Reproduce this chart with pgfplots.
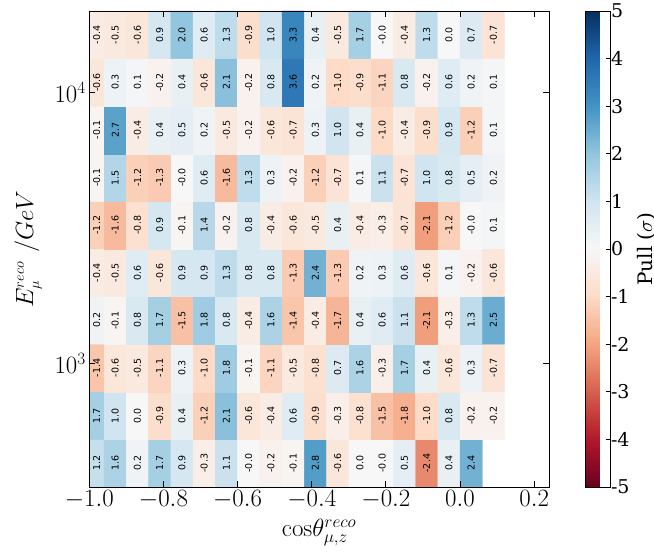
\documentclass[border=0pt]{standalone}
\usepackage[no-math]{fontspec}
\setmainfont{DejaVu Serif}
\newfontfamily\cellfont{DejaVu Sans}
\usepackage{pgfplots}
\pgfplotsset{compat=1.18}
\usepackage{pgfplotstable}

\pgfplotstableread{
x xt y v
-0.99 -0.98 2.63192 1.2
-0.93 -0.93 2.63192 1.6
-0.87 -0.87 2.63192 0.2
-0.81 -0.81 2.63192 1.7
-0.75 -0.75 2.63192 0.9
-0.69 -0.69 2.63192 -0.3
-0.63 -0.63 2.63192 1.1
-0.57 -0.57 2.63192 -0.0
-0.51 -0.51 2.63192 -0.2
-0.45 -0.45 2.63192 -0.1
-0.39 -0.39 2.63192 2.8
-0.33 -0.33 2.63192 -0.6
-0.27 -0.27 2.63192 0.0
-0.21 -0.21 2.63192 -0.0
-0.15 -0.15 2.63192 0.5
-0.09 -0.09 2.63192 -2.4
-0.03 -0.03 2.63192 0.4
0.03 0.03 2.63192 2.4
0.09 nan 2.63192 nan
-0.99 -0.98 2.80761 1.7
-0.93 -0.93 2.80761 1.0
-0.87 -0.87 2.80761 0.0
-0.81 -0.81 2.80761 -0.9
-0.75 -0.75 2.80761 0.4
-0.69 -0.69 2.80761 -1.2
-0.63 -0.63 2.80761 2.1
-0.57 -0.57 2.80761 -0.6
-0.51 -0.51 2.80761 -0.4
-0.45 -0.45 2.80761 0.6
-0.39 -0.39 2.80761 -0.9
-0.33 -0.33 2.80761 -0.3
-0.27 -0.27 2.80761 -0.8
-0.21 -0.21 2.80761 -1.5
-0.15 -0.15 2.80761 -1.8
-0.09 -0.09 2.80761 -1.0
-0.03 -0.03 2.80761 0.8
0.03 0.03 2.80761 -0.2
0.09 0.09 2.80761 -0.2
-0.99 -0.98 2.98331 -1.4
-0.93 -0.93 2.98331 -0.6
-0.87 -0.87 2.98331 -0.5
-0.81 -0.81 2.98331 -1.1
-0.75 -0.75 2.98331 0.3
-0.69 -0.69 2.98331 -1.0
-0.63 -0.63 2.98331 1.8
-0.57 -0.57 2.98331 -0.1
-0.51 -0.51 2.98331 -1.1
-0.45 -0.45 2.98331 -0.5
-0.39 -0.39 2.98331 -0.8
-0.33 -0.33 2.98331 0.7
-0.27 -0.27 2.98331 1.6
-0.21 -0.21 2.98331 -0.3
-0.15 -0.15 2.98331 1.7
-0.09 -0.09 2.98331 0.4
-0.03 -0.03 2.98331 -0.6
0.03 0.03 2.98331 0.3
0.09 0.09 2.98331 -0.7
-0.99 -0.98 3.15900 0.2
-0.93 -0.93 3.15900 -0.1
-0.87 -0.87 3.15900 0.8
-0.81 -0.81 3.15900 1.7
-0.75 -0.75 3.15900 -1.5
-0.69 -0.69 3.15900 1.8
-0.63 -0.63 3.15900 0.8
-0.57 -0.57 3.15900 -0.4
-0.51 -0.51 3.15900 1.6
-0.45 -0.45 3.15900 -1.4
-0.39 -0.39 3.15900 -0.4
-0.33 -0.33 3.15900 -1.7
-0.27 -0.27 3.15900 0.4
-0.21 -0.21 3.15900 0.6
-0.15 -0.15 3.15900 1.1
-0.09 -0.09 3.15900 -2.1
-0.03 -0.03 3.15900 -0.3
0.03 0.03 3.15900 1.3
0.09 0.09 3.15900 2.5
-0.99 -0.98 3.33470 -0.4
-0.93 -0.93 3.33470 -0.5
-0.87 -0.87 3.33470 0.6
-0.81 -0.81 3.33470 -0.6
-0.75 -0.75 3.33470 0.9
-0.69 -0.69 3.33470 0.9
-0.63 -0.63 3.33470 1.3
-0.57 -0.57 3.33470 0.8
-0.51 -0.51 3.33470 0.8
-0.45 -0.45 3.33470 -1.3
-0.39 -0.39 3.33470 2.4
-0.33 -0.33 3.33470 -1.3
-0.27 -0.27 3.33470 0.2
-0.21 -0.21 3.33470 0.3
-0.15 -0.15 3.33470 0.6
-0.09 -0.09 3.33470 -0.6
-0.03 -0.03 3.33470 0.1
0.03 0.03 3.33470 -0.2
0.09 0.09 3.33470 -0.6
-0.99 -0.98 3.51040 -1.2
-0.93 -0.93 3.51040 -1.6
-0.87 -0.87 3.51040 -0.8
-0.81 -0.81 3.51040 0.9
-0.75 -0.75 3.51040 -0.1
-0.69 -0.69 3.51040 1.4
-0.63 -0.63 3.51040 -0.2
-0.57 -0.57 3.51040 0.8
-0.51 -0.51 3.51040 -0.4
-0.45 -0.45 3.51040 -0.6
-0.39 -0.39 3.51040 -0.5
-0.33 -0.33 3.51040 0.4
-0.27 -0.27 3.51040 -0.4
-0.21 -0.21 3.51040 -0.3
-0.15 -0.15 3.51040 -0.7
-0.09 -0.09 3.51040 -2.1
-0.03 -0.03 3.51040 -1.2
0.03 0.03 3.51040 -0.0
0.09 0.09 3.51040 0.1
-0.99 -0.98 3.68609 -0.1
-0.93 -0.93 3.68609 1.5
-0.87 -0.87 3.68609 -1.2
-0.81 -0.81 3.68609 -1.3
-0.75 -0.75 3.68609 -0.0
-0.69 -0.69 3.68609 0.6
-0.63 -0.63 3.68609 -1.6
-0.57 -0.57 3.68609 1.3
-0.51 -0.51 3.68609 0.3
-0.45 -0.45 3.68609 -0.2
-0.39 -0.39 3.68609 -1.2
-0.33 -0.33 3.68609 -0.7
-0.27 -0.27 3.68609 0.1
-0.21 -0.21 3.68609 1.1
-0.15 -0.15 3.68609 -0.7
-0.09 -0.09 3.68609 1.0
-0.03 -0.03 3.68609 0.8
0.03 0.03 3.68609 0.5
0.09 0.09 3.68609 0.2
-0.99 -0.98 3.86179 -0.1
-0.93 -0.93 3.86179 2.7
-0.87 -0.87 3.86179 -0.4
-0.81 -0.81 3.86179 0.4
-0.75 -0.75 3.86179 0.5
-0.69 -0.69 3.86179 0.2
-0.63 -0.63 3.86179 -0.5
-0.57 -0.57 3.86179 -0.2
-0.51 -0.51 3.86179 -0.6
-0.45 -0.45 3.86179 -0.7
-0.39 -0.39 3.86179 0.3
-0.33 -0.33 3.86179 1.0
-0.27 -0.27 3.86179 0.4
-0.21 -0.21 3.86179 -1.0
-0.15 -0.15 3.86179 -0.4
-0.09 -0.09 3.86179 -0.9
-0.03 -0.03 3.86179 0.9
0.03 0.03 3.86179 -1.2
0.09 0.09 3.86179 0.1
-0.99 -0.98 4.03748 -0.6
-0.93 -0.93 4.03748 0.3
-0.87 -0.87 4.03748 0.1
-0.81 -0.81 4.03748 -0.2
-0.75 -0.75 4.03748 0.4
-0.69 -0.69 4.03748 -0.6
-0.63 -0.63 4.03748 2.1
-0.57 -0.57 4.03748 -0.2
-0.51 -0.51 4.03748 0.8
-0.45 -0.45 4.03748 3.6
-0.39 -0.39 4.03748 0.2
-0.33 -0.33 4.03748 -1.0
-0.27 -0.27 4.03748 -0.9
-0.21 -0.21 4.03748 -1.1
-0.15 -0.15 4.03748 0.8
-0.09 -0.09 4.03748 -0.2
-0.03 -0.03 4.03748 0.6
0.03 0.03 4.03748 0.2
0.09 0.09 4.03748 0.1
-0.99 -0.98 4.21318 -0.4
-0.93 -0.93 4.21318 -0.5
-0.87 -0.87 4.21318 -0.6
-0.81 -0.81 4.21318 0.9
-0.75 -0.75 4.21318 2.0
-0.69 -0.69 4.21318 0.6
-0.63 -0.63 4.21318 1.3
-0.57 -0.57 4.21318 -0.9
-0.51 -0.51 4.21318 1.0
-0.45 -0.45 4.21318 3.3
-0.39 -0.39 4.21318 0.4
-0.33 -0.33 4.21318 -0.5
-0.27 -0.27 4.21318 1.7
-0.21 -0.21 4.21318 -0.0
-0.15 -0.15 4.21318 -0.4
-0.09 -0.09 4.21318 1.3
-0.03 -0.03 4.21318 0.0
0.03 0.03 4.21318 0.7
0.09 0.09 4.21318 -0.7
}\pulls

\begin{document}
\begin{tikzpicture}
\path[use as bounding box] (-89.3pt,-65pt) rectangle (564.7pt,487pt);
\begin{axis}[
  at={(0pt,0pt)}, anchor=south west,
  scale only axis, width=459.7pt, height=476pt,
  xmin=-1, xmax=0.24, ymin=2.54407, ymax=4.30103,
  axis on top,
  xtick={-1,-0.8,-0.6,-0.4,-0.2,0,0.2},
  xticklabel style={/pgf/number format/.cd, fixed, fixed zerofill, precision=1},
  ytick={3,4}, yticklabels={$10^3$,$10^4$},
  tick align=inside, major tick length=6pt,
  xtick pos=both, ytick pos=both, xticklabel pos=bottom, yticklabel pos=left,
  tick label style={font=\fontsize{23}{27}\selectfont},
  every tick/.style={black, line width=0.8pt},
  axis line style={line width=0.9pt},
  colormap={RdBu}{rgb255=(103,0,31) rgb255=(178,24,43) rgb255=(214,96,77) rgb255=(244,165,130) rgb255=(253,219,199) rgb255=(247,247,247) rgb255=(209,229,240) rgb255=(146,197,222) rgb255=(67,147,195) rgb255=(33,102,172) rgb255=(5,48,97)},
  point meta min=-5, point meta max=5,
  colorbar,
  colorbar style={
    at={(parent axis.north east)}, anchor=north west, xshift=28pt,
    scale only axis, width=25pt, height=476pt,
    ytick={-5,-4,-3,-2,-1,0,1,2,3,4,5},
    yticklabels={-5,-4,-3,-2,-1,0,1,2,3,4,5},
    yticklabel style={font=\fontsize{19}{23}\selectfont, xshift=-3pt},
    tick align=inside, major tick length=5pt,
    ytick pos=right, yticklabel pos=right,
    ylabel={Pull ($\sigma$)},
    ylabel style={font=\fontsize{20}{24}\selectfont, at={(axis description cs:2.42,0.5)}, anchor=center},
  },
  xlabel={$\mathrm{cos}\theta^{\scriptscriptstyle reco}_{\scriptscriptstyle \mu,z}$},
  ylabel={$E^{\scriptscriptstyle reco}_{\scriptscriptstyle \mu}\ /GeV$},
  xlabel style={font=\fontsize{33}{38}\selectfont, at={(axis description cs:0.5,-0.095)}, anchor=center},
  ylabel style={font=\fontsize{27}{31}\selectfont, at={(axis description cs:-0.133,0.5)}, anchor=center},
  unbounded coords=jump,
]
\addplot[matrix plot*, mesh/cols=19, mesh/rows=10, point meta=explicit] table[x=x,y=y,meta=v]{\pulls};
\addplot[draw=none, mark=none, nodes near coords, point meta=explicit symbolic,
  nodes near coords align=center,
  every node near coord/.append style={rotate=90, anchor=center, font=\cellfont\fontsize{9.5}{11}\selectfont, text=black, inner sep=0pt}]
  table[x=xt,y=y,meta=v]{\pulls};
\end{axis}
\end{tikzpicture}
\end{document}
